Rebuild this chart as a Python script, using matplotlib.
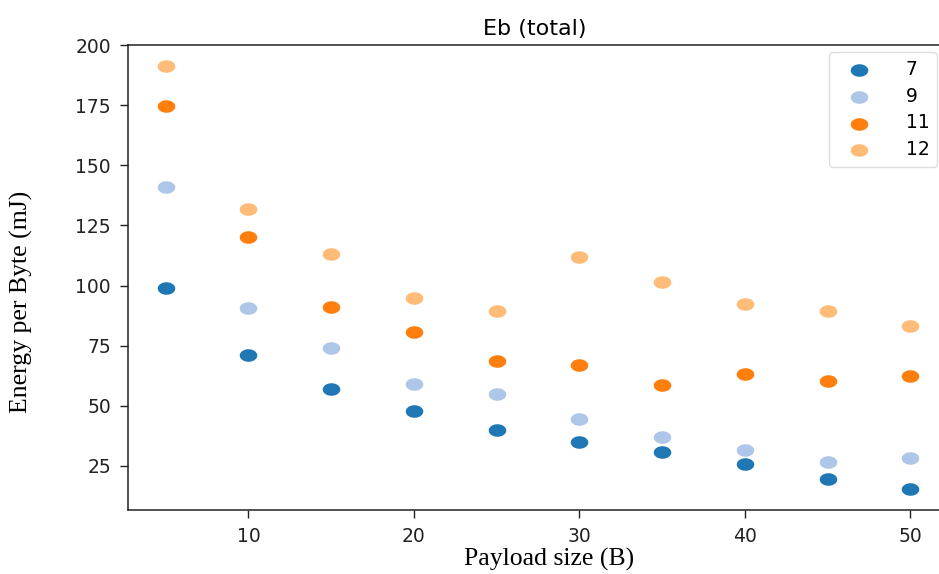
import numpy as np
import matplotlib
matplotlib.use('Agg')
import matplotlib.pyplot as plt
from matplotlib.path import Path

payload = [5, 10, 15, 20, 25, 30, 35, 40, 45, 50]
sf_labels = ['7', '9', '11', '12']
eb_sf7 = [99, 71, 57, 48, 40, 35, 31, 26, 19.5, 15.5]
eb_sf9 = [141, 90.5, 74, 59, 55, 44.5, 37, 31.5, 26.8, 28.3]
eb_sf11 = [174.5, 120, 91, 80.8, 68.8, 67, 58.8, 63.3, 60.2, 62.4]
eb_sf12 = [191.5, 132, 113, 94.8, 89.5, 112, 101.5, 92.2, 89.5, 83.3]
colors = ['#1f77b4', '#aec7e8', '#ff7f0e', '#ffbb78']

# slightly flattened dot, wider than tall
t = np.linspace(0, 2 * np.pi, 60)
dot = Path(np.column_stack([1.4 * np.cos(t), np.sin(t)]), closed=True)

fig = plt.figure(figsize=(9.39, 5.74), dpi=100)
ax = fig.add_axes([0.136, 0.1115, 0.867, 0.81])

for ys, c, lab in zip([eb_sf7, eb_sf9, eb_sf11, eb_sf12], colors, sf_labels):
    ax.scatter(payload, ys, s=160, color=c, marker=dot, linewidths=0, label=lab)

ax.set_xlim(2.7, 51.9)
ax.set_ylim(6.7, 200)
ax.set_yticks([25, 50, 75, 100, 125, 150, 175, 200])
ax.set_xticks([10, 20, 30, 40, 50])
ax.tick_params(labelsize=13.5, length=6, width=1, pad=6, colors='#222222')
for sp in ax.spines.values():
    sp.set_linewidth(1.1)
    sp.set_color('#222222')

ax.set_title('Eb (total)', fontsize=16, pad=7)
ax.legend(loc='upper right', bbox_to_anchor=(0.998, 0.909), bbox_transform=fig.transFigure,
          fontsize=13.5, handletextpad=1.3, borderpad=0.4, labelspacing=0.42,
          handlelength=2.4, borderaxespad=0, framealpha=1, edgecolor='#dddddd')

fig.text(0.023, 0.474, 'Energy per Byte (mJ)', rotation=90, ha='center', va='center',
         family='Liberation Serif', fontsize=18.5)
fig.text(0.585, 0.026, 'Payload size (B)', ha='center', va='center',
         family='Liberation Serif', fontsize=18.5)

fig.savefig('out.png', dpi=100)
